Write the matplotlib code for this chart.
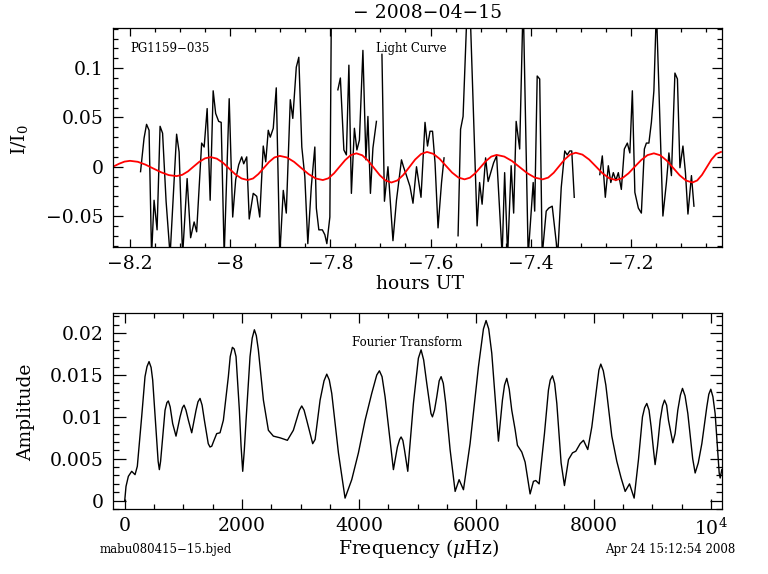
import numpy as np
import matplotlib
matplotlib.use('Agg')
import matplotlib.pyplot as plt
from matplotlib.ticker import MultipleLocator

plt.rcParams['font.family'] = ['DejaVu Serif']
plt.rcParams['mathtext.fontset'] = 'dejavuserif'

nan = np.nan

# light curve (hours UT, relative intensity), nan = gap in the data
lc_hours = [
    -8.179, -8.172, -8.167, -8.162, -8.157, -8.152, -8.146, -8.140, -8.135, -8.128,
    -8.120, -8.107, -8.102, -8.095, -8.086, -8.079, -8.072, -8.067, -8.057, -8.052,
    -8.046, -8.040, -8.034, -8.029, -8.023, -8.018, -8.012, -8.002, -7.995, -7.989,
    -7.983, -7.977, -7.973, -7.967, -7.962, -7.954, -7.947, -7.941, -7.934, -7.929,
    -7.924, -7.920, -7.914, -7.908, -7.901, -7.894, -7.888, -7.880, -7.875, -7.868,
    -7.863, -7.857, -7.851, -7.845, -7.838, -7.831, -7.828, -7.823, -7.816, -7.811,
    -7.807, -7.801, -7.798, nan,
    -7.785, -7.780, -7.773, -7.768, -7.763, -7.758, -7.752, -7.747, -7.742, -7.735,
    -7.729, -7.725, -7.720, -7.715, -7.708, nan,
    -7.697, -7.692, -7.685, -7.675, -7.668, -7.658, -7.654, -7.648, -7.641, -7.635,
    -7.628, -7.619, -7.611, -7.606, -7.601, -7.596, -7.591, -7.585, -7.578, -7.573, nan,
    -7.545, -7.540, -7.535, -7.527, -7.521, -7.507, -7.502, -7.497, -7.490, -7.485,
    -7.478, -7.474, -7.468, -7.462, -7.457, -7.452, -7.446, -7.439, -7.434, -7.429,
    -7.422, -7.415, -7.405, -7.395, -7.392, -7.387, -7.382, -7.377, -7.369, -7.364,
    -7.357, -7.346, -7.339, -7.332, -7.327, -7.322, -7.318, -7.313, nan,
    -7.262, -7.257, -7.251, -7.245, -7.240, -7.235, -7.230, -7.225, -7.219, -7.213,
    -7.207, -7.202, -7.197, -7.192, -7.185, -7.179, -7.173, -7.169, -7.164, -7.159,
    -7.154, -7.149, -7.136, -7.129, -7.124, -7.119, -7.112, -7.107, -7.102, -7.096,
    -7.091, -7.086, -7.079, -7.074]
lc_flux = [
    -0.005, 0.029, 0.043, 0.037, -0.09, -0.034, -0.064, 0.041, 0.034, -0.035,
    -0.09, 0.033, 0.015, -0.09, -0.012, -0.072, -0.056, -0.066, 0.024, 0.020,
    0.059, -0.034, 0.077, 0.054, 0.046, 0.045, -0.09, 0.069, -0.051, -0.013,
    0.002, 0.010, 0.003, 0.010, -0.053, -0.027, -0.030, -0.051, 0.021, 0.005,
    0.037, 0.030, 0.039, 0.080, -0.09, -0.024, -0.047, 0.068, 0.049, 0.101,
    0.111, 0.020, -0.010, -0.078, -0.020, 0.020, -0.042, -0.064, -0.064, -0.069,
    -0.078, -0.051, 0.16, nan,
    0.078, 0.090, 0.017, 0.012, 0.103, -0.027, 0.039, 0.017, 0.027, 0.118,
    0.007, 0.051, -0.027, 0.019, 0.046, nan,
    0.114, -0.035, 0.000, -0.075, -0.034, 0.007, 0.000, -0.009, -0.020, -0.037,
    0.000, -0.031, 0.045, 0.021, 0.036, 0.036, 0.004, -0.062, -0.016, 0.009, nan,
    -0.070, 0.038, 0.051, 0.16, 0.16, -0.060, -0.016, -0.038, 0.009, -0.015,
    -0.003, 0.004, 0.011, -0.045, -0.09, -0.006, -0.09, 0.001, -0.047, 0.046,
    0.018, 0.17, -0.09, -0.016, -0.045, 0.092, 0.089, -0.09, -0.045, -0.042,
    -0.040, -0.09, -0.021, 0.016, 0.012, 0.016, 0.016, -0.031, nan,
    -0.008, 0.011, -0.031, 0.001, -0.016, -0.006, -0.014, -0.006, -0.023, 0.018,
    0.024, 0.014, 0.077, -0.026, -0.042, -0.047, 0.018, 0.024, 0.024, 0.045,
    0.077, 0.16, -0.050, -0.016, 0.014, -0.009, 0.095, 0.089, -0.001, 0.021,
    -0.006, -0.048, -0.009, -0.040]

# red model curve
red_hours = [
    -8.234, -8.222, -8.211, -8.200,
    -8.1845, -8.169, -8.1535, -8.138, -8.1225, -8.107,
    -8.0957, -8.0843, -8.073, -8.0617, -8.0503, -8.039,
    -8.0267, -8.0143, -8.002, -7.9897, -7.9773, -7.965,
    -7.9543, -7.9437, -7.933, -7.9223, -7.9117, -7.901,
    -7.8867, -7.8723, -7.858, -7.8437, -7.8293, -7.815,
    -7.8038, -7.7927, -7.7815, -7.7703, -7.7592, -7.748,
    -7.7363, -7.7247, -7.713, -7.7013, -7.6897, -7.678,
    -7.6662, -7.6543, -7.6425, -7.6307, -7.6188, -7.607,
    -7.5945, -7.582, -7.5695, -7.557, -7.5445, -7.532,
    -7.5213, -7.5107, -7.500, -7.4893, -7.4787, -7.468,
    -7.4527, -7.4373, -7.422, -7.4067, -7.3913, -7.376,
    -7.365, -7.354, -7.343, -7.332, -7.321, -7.310,
    -7.2967, -7.2833, -7.270, -7.2567, -7.2433, -7.230,
    -7.2173, -7.2047, -7.192, -7.1793, -7.1667, -7.154,
    -7.1412, -7.1283, -7.1155, -7.1027, -7.0898, -7.077,
    -7.0675, -7.058, -7.0485, -7.039, -7.0295, -7.020]
red_flux = [
    0.0, 0.003, 0.0052, 0.006,
    0.0050, 0.0021, -0.0018, -0.0056, -0.0085, -0.0095,
    -0.0082, -0.0047, 0.0002, 0.0050, 0.0085, 0.0098,
    0.0082, 0.0040, -0.0019, -0.0077, -0.0119, -0.0135,
    -0.0119, -0.0074, -0.0013, 0.0049, 0.0094, 0.011,
    0.0094, 0.0049, -0.0013, -0.0074, -0.0119, -0.0135,
    -0.0117, -0.0067, 0.0001, 0.0068, 0.0118, 0.0136,
    0.0116, 0.0062, -0.0012, -0.0086, -0.0140, -0.016,
    -0.0139, -0.0083, -0.0005, 0.0073, 0.0129, 0.015,
    0.0131, 0.0081, 0.0011, -0.0059, -0.0109, -0.0128,
    -0.0111, -0.0066, -0.0004, 0.0058, 0.0103, 0.012,
    0.0103, 0.0058, -0.0004, -0.0066, -0.0111, -0.0128,
    -0.0110, -0.0061, 0.0007, 0.0075, 0.0124, 0.0142,
    0.0123, 0.0073, 0.0004, -0.0066, -0.0116, -0.0135,
    -0.0117, -0.0067, 0.0001, 0.0068, 0.0118, 0.0136,
    0.0116, 0.0062, -0.0012, -0.0086, -0.0140, -0.016,
    -0.0139, -0.0083, -0.0005, 0.0073, 0.0129, 0.015]

# amplitude spectrum
ft_freq = [
    0, 22, 62, 119, 176, 215, 289, 346, 415, 477,
    534, 591, 648, 688, 744, 818, 875, 944, 1012, 1086,
    1143, 1217, 1285, 1359, 1455, 1512, 1569, 1626, 1683, 1768,
    1837, 1899, 1956, 2013, 2070, 2138, 2212, 2280, 2366, 2451,
    2536, 2650, 2775, 2877, 3020, 3105, 3207, 3248, 3333, 3447,
    3532, 3646, 3759, 3873, 3987, 4101, 4214, 4345, 4442, 4584,
    4652, 4715, 4772, 4829, 4925, 5056, 5153, 5250, 5324, 5398,
    5477, 5551, 5637, 5705, 5779, 5892, 6035, 6165, 6262, 6376,
    6444, 6518, 6603, 6660, 6700, 6774, 6831, 6916, 6973, 7013,
    7070, 7161, 7229, 7298, 7372, 7445, 7502, 7571, 7639, 7696,
    7770, 7827, 7900, 7969, 8054, 8122, 8208, 8310, 8395, 8469,
    8538, 8612, 8691, 8765, 8833, 8907, 8981, 9049, 9135, 9209,
    9277, 9351, 9436, 9516, 9607, 9732, 9846, 9931, 9999, 10073,
    10142, 10159, 10187]
ft_amp = [
    0.0, 0.0017, 0.0029, 0.0035, 0.0031, 0.0041, 0.0100, 0.0148, 0.0166, 0.0144,
    0.0084, 0.0037, 0.0076, 0.0108, 0.0119, 0.0092, 0.0077, 0.0100, 0.0114, 0.0096,
    0.0081, 0.0108, 0.0122, 0.0096, 0.0064, 0.0070, 0.0080, 0.0081, 0.0096, 0.0148,
    0.0183, 0.0172, 0.0108, 0.0035, 0.0096, 0.0172, 0.0204, 0.0180, 0.0120, 0.0084,
    0.0077, 0.0075, 0.0072, 0.0084, 0.0113, 0.0096, 0.0068, 0.0073, 0.0120, 0.0151,
    0.0128, 0.0057, 0.0003, 0.0025, 0.0057, 0.0096, 0.0128, 0.0155, 0.0124, 0.0037,
    0.0064, 0.0076, 0.0061, 0.0035, 0.0116, 0.0180, 0.0140, 0.0100, 0.0124, 0.0148,
    0.0116, 0.0061, 0.0011, 0.0025, 0.0013, 0.0068, 0.0160, 0.0215, 0.0176, 0.0071,
    0.0120, 0.0146, 0.0108, 0.0085, 0.0066, 0.0058, 0.0046, 0.0008, 0.0023, 0.0024,
    0.0020, 0.0080, 0.0132, 0.0149, 0.0116, 0.0045, 0.0018, 0.0049, 0.0057, 0.0059,
    0.0068, 0.0072, 0.0061, 0.0088, 0.0136, 0.0163, 0.0138, 0.0077, 0.0047, 0.0027,
    0.0011, 0.0020, 0.0003, 0.0049, 0.0100, 0.0116, 0.0088, 0.0043, 0.0096, 0.0120,
    0.0096, 0.0069, 0.0108, 0.0134, 0.0104, 0.0033, 0.0068, 0.0112, 0.0133, 0.0104,
    0.0033, 0.0027, 0.0037]
# extra readings on the shoulders of the peaks (the curve is smooth there)
ft_freq_shoulder = [
    380, 450, 570, 612, 720, 775, 985, 1045, 1250, 1320, 1425, 1485,
    1800, 1868, 1985, 2040, 2175, 2245, 2980, 3060, 3400, 3490, 4300, 4390,
    4690, 4745, 5010, 5100, 5225, 5285, 5365, 5435, 6120, 6210, 6480, 6560,
    7260, 7335, 8090, 8165, 8870, 8945, 9025, 9090, 9175, 9245, 9320, 9390,
    9480, 9560, 9690, 9785, 9965, 10035]
ft_amp_shoulder = [
    0.0160, 0.0159, 0.0047, 0.0047, 0.0117, 0.0112, 0.0111, 0.0108, 0.0118, 0.0114, 0.0068, 0.0065,
    0.0172, 0.0181, 0.0065, 0.0060, 0.0194, 0.0197, 0.0108, 0.0108, 0.0143, 0.0144, 0.0150, 0.0148,
    0.0073, 0.0072, 0.0170, 0.0168, 0.0104, 0.0108, 0.0143, 0.0140, 0.0205, 0.0205, 0.0138, 0.0133,
    0.0144, 0.0140, 0.0156, 0.0155, 0.0111, 0.0108, 0.0058, 0.0065, 0.0113, 0.0114, 0.0080, 0.0080,
    0.0126, 0.0125, 0.0050, 0.0045, 0.0127, 0.0124]

lc_xticks = [-8.2, -8.0, -7.8, -7.6, -7.4, -7.2]
lc_xlabels = ['\u22128.2', '\u22128', '\u22127.8', '\u22127.6', '\u22127.4', '\u22127.2']
lc_yticks = [-0.05, 0.0, 0.05, 0.1]
lc_ylabels = ['\u22120.05', '0', '0.05', '0.1']
ft_xticks = [0, 2000, 4000, 6000, 8000, 10000]
ft_xlabels = ['0', '2000', '4000', '6000', '8000', '$10^4$']
ft_yticks = [0, 0.005, 0.01, 0.015, 0.02]
ft_ylabels = ['0', '0.005', '0.01', '0.015', '0.02']

W, H = 768, 574
fig = plt.figure(figsize=(W/100, H/100), dpi=100)

def box(l, t, r, b):
    return [l/W, 1-b/H, (r-l)/W, (b-t)/H]

fs = 13.5

# --- light curve ---
ax1 = fig.add_axes(box(113, 28, 722, 247))
ax1.plot(lc_hours, lc_flux, color='black', lw=1.0)
ax1.plot(red_hours, red_flux, color='red', lw=1.3)
ax1.set_xlim(-8.234, -7.018)
ax1.set_ylim(-0.0814, 0.1407)
ax1.set_xticks(lc_xticks)
ax1.set_xticklabels(lc_xlabels)
ax1.set_yticks(lc_yticks)
ax1.set_yticklabels(lc_ylabels)
ax1.xaxis.set_minor_locator(MultipleLocator(0.05))
ax1.yaxis.set_minor_locator(MultipleLocator(0.01))
ax1.tick_params(which='both', direction='in', top=True, right=True, labelsize=fs, width=0.9)
ax1.tick_params(axis='x', which='major', length=5.5, pad=6)
ax1.tick_params(axis='x', which='minor', length=2.8)
ax1.tick_params(axis='y', which='major', length=7, pad=7)
ax1.tick_params(axis='y', which='minor', length=3.5)
ax1.text(0.028, 0.89, 'PG1159\u2212035', transform=ax1.transAxes, fontsize=8.5)
ax1.text(0.432, 0.89, 'Light Curve', transform=ax1.transAxes, fontsize=8.5)

# --- Fourier transform ---
f_all = np.array(ft_freq + ft_freq_shoulder, dtype=float)
a_all = np.array(ft_amp + ft_amp_shoulder)
order = np.argsort(f_all)
ax2 = fig.add_axes(box(113, 313, 722, 509))
ax2.plot(f_all[order], a_all[order], color='black', lw=1.0)
ax2.set_xlim(-200, 10190)
ax2.set_ylim(-0.001, 0.0224)
ax2.set_xticks(ft_xticks)
ax2.set_xticklabels(ft_xlabels)
ax2.set_yticks(ft_yticks)
ax2.set_yticklabels(ft_ylabels)
ax2.xaxis.set_minor_locator(MultipleLocator(500))
ax2.yaxis.set_minor_locator(MultipleLocator(0.001))
ax2.tick_params(which='both', direction='in', top=True, right=True, labelsize=fs, width=0.9)
ax2.tick_params(axis='x', which='major', length=7, pad=6)
ax2.tick_params(axis='x', which='minor', length=3.5)
ax2.tick_params(axis='y', which='major', length=9, pad=7)
ax2.tick_params(axis='y', which='minor', length=4.5)
ax2.text(0.392, 0.83, 'Fourier Transform', transform=ax2.transAxes, fontsize=8.5)

for ax in (ax1, ax2):
    for s in ax.spines.values():
        s.set_linewidth(0.9)

# labels and annotations in figure pixels
fig.text(428/W, 1-13/H, '\u2212 2008\u221204\u221215', fontsize=fs, ha='center', va='center')
fig.text(20/W, 1-140/H, 'I/I$_0$', fontsize=fs, rotation=90, ha='center', va='center')
fig.text(420/W, 1-284/H, 'hours UT', fontsize=fs, ha='center', va='center')
fig.text(26/W, 1-412/H, 'Amplitude', fontsize=fs, rotation=90, ha='center', va='center')
fig.text(418/W, 1-549/H, 'Frequency ($\\mu$Hz)', fontsize=fs, ha='center', va='center')
fig.text(100/W, 1-550/H, 'mabu080415\u221215.bjed', fontsize=8.5, ha='left', va='center')
fig.text(735/W, 1-550/H, 'Apr 24 15:12:54 2008', fontsize=8.5, ha='right', va='center')

fig.savefig('out.png', dpi=100)
